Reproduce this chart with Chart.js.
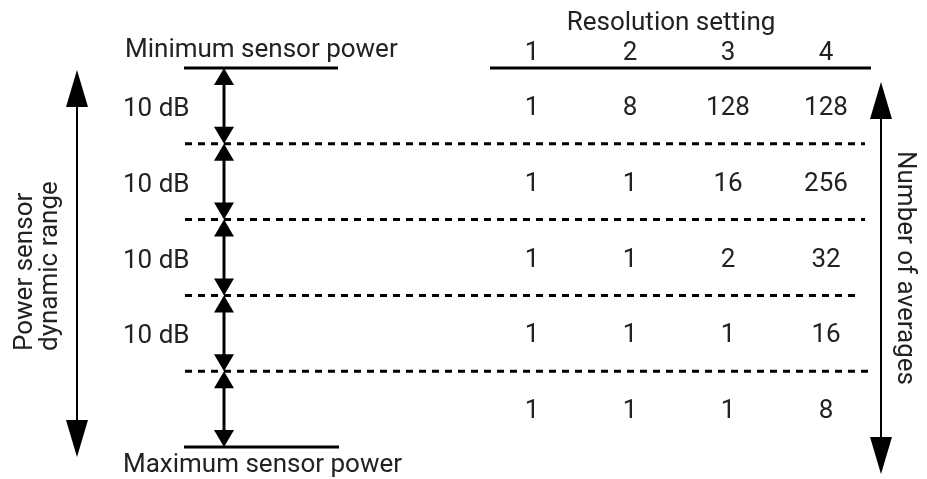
<!DOCTYPE html>
<html>
<head>
<meta charset="utf-8">
<script src="https://cdn.jsdelivr.net/npm/chart.js@4"></script>
<style>
  html, body { margin: 0; padding: 0; background: #fff; }
</style>
</head>
<body>
<canvas id="diagram" width="927" height="479"></canvas>
<script>
// 표 데이터 (위 -> 아래)
const resolutions = [1, 2, 3, 4]
const bandSteps = [10, 10, 10, 10, 10]            // dB, 한 칸씩
const bandLabels = ['10 dB', '10 dB', '10 dB', '10 dB']
const averages = [
  [1, 8, 128, 128],
  [1, 1, 16, 256],
  [1, 1, 2, 32],
  [1, 1, 1, 16],
  [1, 1, 1, 8],
]
const headerText = 'Resolution setting'
const minText = 'Minimum sensor power'
const maxText = 'Maximum sensor power'
const leftAxisText = ['Power sensor', 'dynamic range']
const rightAxisText = 'Number of averages'

// 경계값 (0, 10, 20 ... dB)
const bounds = [0]
bandSteps.forEach(s => bounds.push(bounds[bounds.length - 1] + s))
const total = bounds[bounds.length - 1]

// 레이아웃
const W = 927, H = 479
const TOP = 68, BOTTOM = 447
const pxPerDb = (BOTTOM - TOP) / total
const colX = r => 532 + (r - 1) * 98
const FONT = '26px Roboto'
const INK = '#222'

function seg(x1, x2, y, width, dash) {
  return {
    data: [{ x: x1, y: y }, { x: x2, y: y }],
    showLine: true,
    borderColor: '#000',
    borderWidth: width,
    borderDash: dash,
    borderCapStyle: 'butt',
    pointRadius: 0,
  }
}

const datasets = []
datasets.push(seg(184, 338, 0, 3, []))
datasets.push(seg(184, 339, total, 3, []))
datasets.push(seg(490, 871, 0, 3, []))
const dashEnds = [865, 865, 857, 868]
bounds.slice(1, -1).forEach((b, i) => datasets.push(seg(185, dashEnds[i], b, 3, [7, 6])))

// 숫자 칸
const firstValueSet = datasets.length
averages.forEach((row, i) => {
  datasets.push({
    data: row.map((v, j) => ({ x: colX(resolutions[j]), y: (bounds[i] + bounds[i + 1]) / 2, v: v })),
    pointRadius: 0,
    showLine: false,
  })
})

function head(ctx, x, tipY, dir, len, half) {
  ctx.beginPath()
  ctx.moveTo(x, tipY)
  ctx.lineTo(x - half, tipY - dir * len)
  ctx.lineTo(x + half, tipY - dir * len)
  ctx.closePath()
  ctx.fill()
}

function doubleArrow(ctx, x, top, bot, len, half, width) {
  ctx.lineWidth = width
  ctx.beginPath()
  ctx.moveTo(x, top + len - 1)
  ctx.lineTo(x, bot - len + 1)
  ctx.stroke()
  head(ctx, x, top, -1, len, half)
  head(ctx, x, bot, 1, len, half)
}

const drawPlugin = {
  id: 'diagram',
  afterDatasetsDraw(chart) {
    const ctx = chart.ctx
    const y = chart.scales.y
    const yTop = y.getPixelForValue(0)
    const yBot = y.getPixelForValue(total)
    ctx.save()
    ctx.fillStyle = '#000'
    ctx.strokeStyle = '#000'

    // 작은 화살표
    for (let i = 0; i < bandSteps.length; i++) {
      doubleArrow(ctx, 224, y.getPixelForValue(bounds[i]), y.getPixelForValue(bounds[i + 1]), 17, 10, 3)
    }
    // 큰 화살표
    doubleArrow(ctx, 77, yTop + 2, yBot + 10, 37, 11, 2)
    doubleArrow(ctx, 881, yTop + 14, yBot + 27, 37, 11, 2)

    // 글자
    ctx.fillStyle = INK
    ctx.font = FONT
    ctx.textBaseline = 'alphabetic'
    ctx.textAlign = 'left'
    ctx.fillText(minText, 125, yTop - 11)
    ctx.fillText(maxText, 123, yBot + 25)
    bandLabels.forEach((t, i) => {
      const mid = y.getPixelForValue((bounds[i] + bounds[i + 1]) / 2)
      ctx.fillText(t, 123, mid + 10)
    })

    ctx.textAlign = 'center'
    ctx.fillText(headerText, 671, yTop - 38)
    resolutions.forEach(r => ctx.fillText(String(r), colX(r), yTop - 8))

    for (let i = firstValueSet; i < datasets.length; i++) {
      const meta = chart.getDatasetMeta(i)
      meta.data.forEach((pt, j) => {
        ctx.fillText(String(datasets[i].data[j].v), pt.x, pt.y + 9)
      })
    }

    // 세로 글자
    ctx.save()
    ctx.translate(0, 351)
    ctx.rotate(-Math.PI / 2)
    ctx.textAlign = 'left'
    ctx.fillText(leftAxisText[0], 0, 32)
    ctx.fillText(leftAxisText[1], 0, 57)
    ctx.restore()

    ctx.save()
    ctx.translate(898, 268)
    ctx.rotate(Math.PI / 2)
    ctx.textAlign = 'center'
    ctx.fillText(rightAxisText, 0, 0)
    ctx.restore()

    ctx.restore()
  }
}

const config = {
  type: 'scatter',
  data: { datasets: datasets },
  options: {
    responsive: false,
    animation: false,
    devicePixelRatio: 1,
    layout: { padding: 0 },
    plugins: { legend: { display: false }, tooltip: { enabled: false } },
    scales: {
      x: { type: 'linear', display: false, min: 0, max: W },
      y: { type: 'linear', display: false, reverse: true, min: -TOP / pxPerDb, max: (H - TOP) / pxPerDb },
    },
  },
  plugins: [drawPlugin],
}

let diagram = new Chart(document.getElementById('diagram'), config)
</script>
</body>
</html>
